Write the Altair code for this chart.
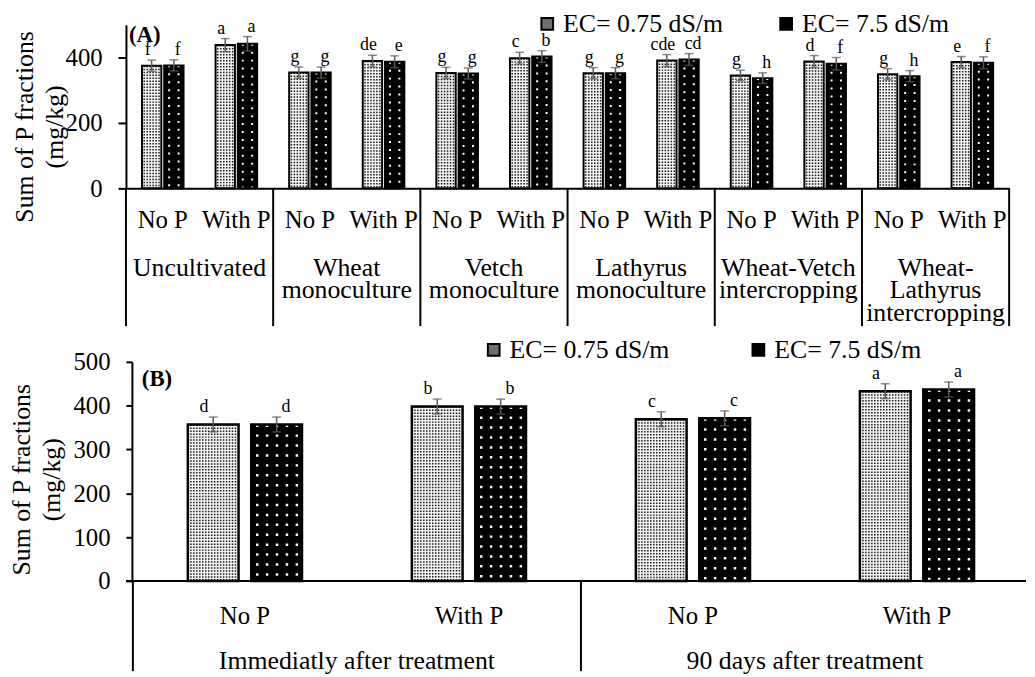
import altair as alt
import pandas as pd

FONT = "Liberation Serif"

# ---------------- data ----------------
systems = ["Uncultivated", "Wheat monoculture", "Vetch monoculture",
           "Lathyrus monoculture", "Wheat-Vetch intercropping",
           "Wheat-Lathyrus intercropping"]
system_labels = ["Uncultivated", "Wheat\nmonoculture", "Vetch\nmonoculture",
                 "Lathyrus\nmonoculture", "Wheat-Vetch\nintercropping",
                 "Wheat-\nLathyrus\nintercropping"]
phos = ["No P", "With P"]
ec_levels = ["EC= 0.75 dS/m", "EC= 7.5 dS/m"]

a_low = [375, 438, 354, 389, 353, 398, 352, 391, 345, 388, 349, 386]
a_high = [376, 442, 354, 387, 351, 403, 352, 394, 337, 381, 343, 384]
a_err_low = [17, 20, 17, 18, 17, 18, 17, 18, 16, 18, 17, 17]
a_err_high = [17, 22, 17, 18, 17, 18, 17, 18, 16, 19, 17, 18]
a_let_low = ["f", "a", "g", "de", "g", "c", "g", "cde", "g", "d", "g", "e"]
a_let_high = ["f", "a", "g", "e", "g", "b", "g", "cd", "h", "f", "h", "f"]

times = ["Immediatly after treatment", "90 days after treatment"]
time_labels = ["Immediatly after treatment", "90 days after treatment"]
b_low = [357, 398, 369, 433]
b_high = [357, 398, 371, 437]
b_err_low = [17, 17, 17, 17]
b_err_high = [17, 17, 17, 17]
b_let_low = ["d", "b", "c", "a"]
b_let_high = ["d", "b", "c", "a"]

LIGHT = "#f2f2f2"
DARK = "#000000"
ERR = "#5a5a5a"
Y_TITLE = ["Sum of P fractions", "(mg/kg)"]


def bars_df(groups, low, high, elow, ehigh, llow, lhigh):
    rows = []
    for gi, g in enumerate(groups):
        for pi, p in enumerate(phos):
            k = gi * 2 + pi
            for ec, v, e, l in ((ec_levels[0], low[k], elow[k], llow[k]),
                                (ec_levels[1], high[k], ehigh[k], lhigh[k])):
                rows.append(dict(key=f"{g}|{p}", group=g, phos=p, ec=ec,
                                 value=v, lo=v - e, hi=v + e, letter=l, base=0))
    return pd.DataFrame(rows)


def band_geom(w, pi, po):
    step = w / (2 - pi + 2 * po)
    bw = step * (1 - pi)
    start = po * step
    return step, bw, start


def panel(groups, labels, df, W, H, xrange, band_w, yvals, ytick, yoff, tpad,
          title_shift, op_in, op_out, legx, legy, colpad, sub_y, grp_y,
          grp_base, sep_y2, tag, tag_x, tag_y, cap, end_sep, bar_sw,
          x_domain, dark_cols, dark_in, dark_sp, dark_dash, dark_sw,
          light_sp, light_dash, light_sw):
    keys = [f"{g}|{p}" for g in groups for p in phos]
    skw = dict(domain=keys, paddingInner=0, paddingOuter=0)
    if xrange is not None:
        skw["range"] = xrange
    xscale = alt.Scale(**skw)
    xaxis = alt.Axis(labels=False, ticks=False, title=" ",
                     titleFontSize=1, titleOpacity=0, titlePadding=0,
                     domain=x_domain, domainColor="black", domainWidth=2,
                     grid=False)
    yscale = alt.Scale(domain=[0, 500], nice=False)
    yaxis = alt.Axis(values=yvals, title=Y_TITLE,
                     labelFont=FONT, labelFontSize=25, labelColor="black",
                     labelPadding=16, tickSize=ytick, tickColor="black",
                     tickWidth=2, domainColor="black", domainWidth=2,
                     grid=False, offset=yoff, titleFont=FONT,
                     titleFontSize=26, titleFontWeight="normal",
                     titleColor="black", titleLineHeight=30,
                     titlePadding=tpad, titleY=H / 2 + title_shift)
    xo = alt.XOffset("ec:N", scale=alt.Scale(domain=ec_levels,
                                             paddingInner=op_in,
                                             paddingOuter=op_out))
    color = alt.Color("ec:N", scale=alt.Scale(domain=ec_levels, range=["#6e6e6e", "#000000"]),
                      legend=alt.Legend(orient="none", legendX=legx, legendY=legy,
                                        direction="horizontal", title=None,
                                        padding=0,
                                        symbolType="square", symbolSize=140,
                                        symbolStrokeColor="black",
                                        symbolStrokeWidth=2, symbolOpacity=1,
                                        labelFont=FONT, labelFontSize=26,
                                        labelColor="black", columnPadding=colpad,
                                        labelOffset=3, labelLimit=0))

    def X(field, **kw):
        return alt.X(field, scale=xscale, axis=xaxis, **kw)

    def Y(field):
        return alt.Y(field, scale=yscale, axis=yaxis)

    base = alt.Chart(df)
    fills = base.mark_bar(strokeWidth=0).encode(
        x=X("key:N"), xOffset=xo, y=Y("value:Q"),
        fill=alt.Fill("ec:N", scale=alt.Scale(domain=ec_levels, range=[LIGHT, DARK]),
                      legend=None))
    # invisible marks that only carry the legend
    legend_carrier = base.mark_square(opacity=0, size=1).encode(
        x=X("key:N"), xOffset=xo, y=Y("value:Q"), color=color)

    # dotted textures (rules inside each bar, positioned with band offset scales)
    step, bw, start = band_geom(band_w, op_in, op_out)

    def dot_layer(ec, n, c0, sp, dash, sw, col):
        sub = df[df["ec"] == ec]
        rows = []
        for _, r in sub.iterrows():
            for j in range(n):
                rows.append(dict(key=r["key"], value=r["value"], base=0, col=f"c{j}"))
        ddf = pd.DataFrame(rows)
        lo = c0 - sp / 2
        sc = alt.Scale(domain=[f"c{j}" for j in range(n)], paddingInner=0,
                       paddingOuter=0, range=[lo, lo + n * sp])
        return alt.Chart(ddf).mark_rule(strokeDash=dash, strokeWidth=sw,
                                        color=col).encode(
            x=X("key:N"), xOffset=alt.XOffset("col:N", scale=sc),
            y=Y("value:Q"), y2="base:Q")

    n_light = int((bw - 4) // light_sp) + 1
    c0_light = start + (bw - (n_light - 1) * light_sp) / 2
    light_dots = dot_layer(ec_levels[0], n_light, c0_light, light_sp,
                           light_dash, light_sw, "#1a1a1a")
    dark_dots = dot_layer(ec_levels[1], dark_cols, start + step + dark_in,
                          dark_sp, dark_dash, dark_sw, "#ffffff")

    outline = base.mark_bar(filled=False, stroke="black", strokeWidth=bar_sw).encode(
        x=X("key:N"), xOffset=xo, y=Y("value:Q"))
    err = base.mark_rule(color=ERR, strokeWidth=1.5).encode(
        x=X("key:N"), xOffset=xo, y=Y("lo:Q"), y2="hi:Q")
    caps = base.transform_fold(["lo", "hi"], as_=["end", "yv"]).mark_tick(
        color=ERR, thickness=1.5, size=cap).encode(
        x=X("key:N"), xOffset=xo, y=Y("yv:Q"))
    letters = base.mark_text(font=FONT, fontSize=18, baseline="bottom", dy=-1,
                             color="black").encode(
        x=X("key:N"), xOffset=xo, y=Y("hi:Q"), text="letter:N")

    sub_df = pd.DataFrame({"key": keys, "phos": [k.split("|")[1] for k in keys]})
    subs = alt.Chart(sub_df).mark_text(font=FONT, fontSize=25, baseline="middle",
                                       color="black").encode(
        x=X("key:N"), y=alt.value(sub_y), text="phos:N")

    grp_df = pd.DataFrame({"key_with": [f"{g}|With P" for g in groups],
                           "key_no": [f"{g}|No P" for g in groups],
                           "label": labels})
    grps = alt.Chart(grp_df).mark_text(font=FONT, fontSize=26, baseline=grp_base,
                                       lineBreak="\n", lineHeight=23,
                                       color="black").encode(
        x=X("key_with:N", bandPosition=0),
        y=alt.value(grp_y), text="label:N")
    seps = alt.Chart(grp_df).mark_rule(color="black", strokeWidth=2).encode(
        x=X("key_no:N", bandPosition=0),
        y=alt.value(H), y2=alt.value(sep_y2))
    layers = [fills, legend_carrier, light_dots, dark_dots, outline, err, caps,
              letters, subs, grps, seps]
    if end_sep:
        end_df = pd.DataFrame({"key_end": [keys[-1]]})
        layers.append(alt.Chart(end_df).mark_rule(color="black", strokeWidth=2).encode(
            x=X("key_end:N", bandPosition=1),
            y=alt.value(H), y2=alt.value(sep_y2)))
    if not x_domain:
        bl_df = pd.DataFrame({"b": [0]})
        layers.append(alt.Chart(bl_df).mark_rule(color="black", strokeWidth=2).encode(
            x=alt.value(0), x2=alt.value(W), y=alt.value(H)))
    tag_df = pd.DataFrame({"t": [tag]})
    layers.append(alt.Chart(tag_df).mark_text(font=FONT, fontSize=23,
                                              fontWeight="bold", align="left",
                                              baseline="middle", color="black").encode(
        x=alt.value(tag_x), y=alt.value(tag_y), text="t:N"))
    return alt.layer(*layers).resolve_scale(xOffset="independent").properties(
        width=W, height=H)


dfA = bars_df(systems, a_low, a_high, a_err_low, a_err_high, a_let_low, a_let_high)
dfB = bars_df(times, b_low, b_high, b_err_low, b_err_high, b_let_low, b_let_high)

chartA = panel(systems, system_labels, dfA, W=891, H=165, xrange=None,
               band_w=891 / 12, yvals=[0, 200, 400], ytick=8, yoff=0, tpad=-2,
               title_shift=20, op_in=0.13, op_out=0.72, legx=412, legy=-14,
               colpad=50, sub_y=197, grp_y=232, grp_base="top", sep_y2=304,
               tag="(A)", tag_x=3, tag_y=10, cap=9, end_sep=True, bar_sw=2,
               x_domain=True, dark_cols=2, dark_in=5, dark_sp=9.5,
               dark_dash=[2, 6], dark_sw=2, light_sp=3, light_dash=[1.5, 1.5],
               light_sw=1.5)
chartB = panel(times, time_labels, dfB, W=908, H=221, xrange=[7, 911],
               band_w=(911 - 7) / 4, yvals=[0, 100, 200, 300, 400, 500],
               ytick=6, yoff=-6, tpad=9, title_shift=8,
               op_in=0.2, op_out=0.866, legx=358, legy=-25, colpad=76,
               sub_y=256, grp_y=302, grp_base="middle", sep_y2=312,
               tag="(B)", tag_x=16, tag_y=17, cap=9, end_sep=False, bar_sw=2.5,
               x_domain=False, dark_cols=5, dark_in=6, dark_sp=10,
               dark_dash=[2.5, 7.5], dark_sw=2.5, light_sp=3,
               light_dash=[1.5, 1.5], light_sw=1.5)

chart = alt.vconcat(chartA, chartB, spacing=10).resolve_scale(
    x="independent", y="independent", color="independent",
    xOffset="independent").resolve_legend(color="independent").properties(
    padding=0).configure(font=FONT).configure_view(strokeWidth=0, stroke="transparent")

chart.save("out.html", embed_options={"renderer": "svg", "actions": False})
